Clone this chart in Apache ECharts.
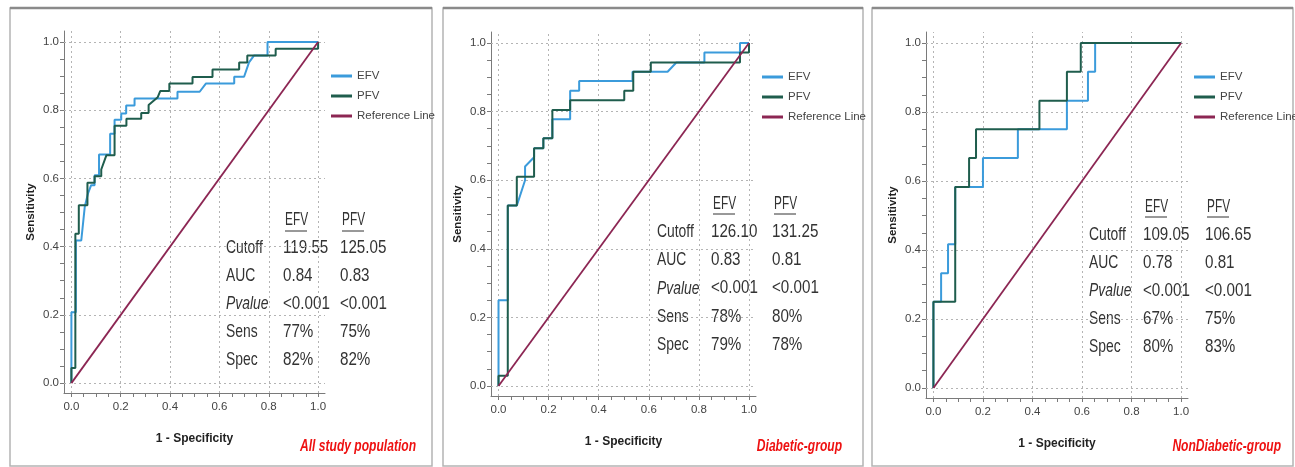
<!DOCTYPE html>
<html>
<head>
<meta charset="utf-8">
<script src="https://cdn.jsdelivr.net/npm/echarts@6/dist/echarts.min.js"></script>
<style>
html, body { margin: 0; padding: 0; background: #fff; }
#main { width: 1295px; height: 467px; }
</style>
</head>
<body>
<div id="main"></div>
<script>
// ROC curves: [1 - specificity, sensitivity]
var efvAll = [[0,0],[0,0.208],[0.018,0.208],[0.018,0.418],[0.04,0.418],[0.054,0.516],[0.067,0.555],[0.08,0.58],[0.094,0.58],[0.094,0.609],[0.112,0.609],[0.112,0.67],[0.157,0.67],[0.157,0.731],[0.175,0.731],[0.175,0.772],[0.202,0.772],[0.202,0.79],[0.222,0.79],[0.222,0.814],[0.256,0.814],[0.256,0.834],[0.43,0.834],[0.43,0.854],[0.52,0.854],[0.545,0.878],[0.66,0.878],[0.66,0.898],[0.70,0.898],[0.72,0.94],[0.74,0.96],[0.795,0.96],[0.795,1],[1,1]];
var pfvAll = [[0,0],[0,0.044],[0.016,0.044],[0.016,0.438],[0.03,0.438],[0.03,0.521],[0.065,0.521],[0.065,0.587],[0.094,0.587],[0.094,0.606],[0.121,0.606],[0.121,0.626],[0.142,0.668],[0.175,0.668],[0.175,0.754],[0.223,0.754],[0.223,0.775],[0.283,0.775],[0.283,0.792],[0.313,0.792],[0.313,0.815],[0.35,0.838],[0.36,0.856],[0.397,0.856],[0.397,0.878],[0.491,0.878],[0.491,0.897],[0.572,0.897],[0.572,0.919],[0.68,0.919],[0.68,0.94],[0.713,0.94],[0.713,0.96],[0.828,0.96],[0.828,0.98],[1,0.98],[1,1]];
var efvDiab = [[0,0],[0,0.25],[0.037,0.25],[0.037,0.526],[0.073,0.526],[0.106,0.60],[0.106,0.64],[0.142,0.667],[0.142,0.693],[0.179,0.693],[0.179,0.722],[0.215,0.722],[0.215,0.778],[0.286,0.778],[0.286,0.861],[0.322,0.861],[0.322,0.889],[0.535,0.889],[0.535,0.916],[0.675,0.916],[0.71,0.943],[0.822,0.943],[0.822,0.972],[0.964,0.972],[0.964,1],[1,1]];
var pfvDiab = [[0,0],[0,0.03],[0.037,0.03],[0.037,0.526],[0.073,0.526],[0.073,0.61],[0.142,0.61],[0.142,0.693],[0.179,0.693],[0.179,0.722],[0.215,0.722],[0.215,0.805],[0.286,0.805],[0.286,0.833],[0.502,0.833],[0.502,0.861],[0.538,0.861],[0.538,0.916],[0.608,0.916],[0.608,0.943],[0.964,0.943],[0.964,0.972],[1,0.972],[1,1]];
var efvNonDiab = [[0,0],[0,0.25],[0.031,0.25],[0.031,0.333],[0.059,0.333],[0.059,0.417],[0.088,0.417],[0.088,0.583],[0.2,0.583],[0.2,0.667],[0.341,0.667],[0.341,0.75],[0.539,0.75],[0.539,0.833],[0.624,0.833],[0.624,0.917],[0.653,0.917],[0.653,1],[1,1]];
var pfvNonDiab = [[0,0],[0,0.25],[0.088,0.25],[0.088,0.583],[0.144,0.583],[0.144,0.667],[0.172,0.667],[0.172,0.75],[0.428,0.75],[0.428,0.833],[0.539,0.833],[0.539,0.917],[0.595,0.917],[0.595,1],[1,1]];
var refLine = [[0,0],[1,1]];

var tickValues = [0,0.05,0.1,0.15,0.2,0.25,0.3,0.35,0.4,0.45,0.5,0.55,0.6,0.65,0.7,0.75,0.8,0.85,0.9,0.95,1];
var labelValues = [0,0.2,0.4,0.6,0.8,1];

var panelTitles = ['All study population', 'Diabetic-group', 'NonDiabetic-group'];
var statLabels = ['Cutoff', 'AUC', 'Pvalue', 'Sens', 'Spec'];
var statHeads = ['EFV', 'PFV'];
var efvStats = [
    ['119.55', '0.84', '<0.001', '77%', '82%'],
    ['126.10', '0.83', '<0.001', '78%', '79%'],
    ['109.05', '0.78', '<0.001', '67%', '80%']
];
var pfvStats = [
    ['125.05', '0.83', '<0.001', '75%', '82%'],
    ['131.25', '0.81', '<0.001', '80%', '78%'],
    ['106.65', '0.81', '<0.001', '75%', '83%']
];
var curves = [[efvAll, pfvAll], [efvDiab, pfvDiab], [efvNonDiab, pfvNonDiab]];

var FONT = "'Liberation Sans', Arial, sans-serif";
var C_EFV = '#3b9bdb', C_PFV = '#1f5d4d', C_REF = '#8c2653';

// layout of the three panels (pixels)
var grids = [
    {left: 64, top: 31, width: 261, height: 362},
    {left: 491, top: 32, width: 265, height: 364},
    {left: 926, top: 32, width: 262, height: 366}
];
var frames = [[10, 8, 422], [443, 8, 420], [872, 8, 421]];
var legendPos = [[331, 69], [762, 70], [1194, 70]];
// label x, col1 x, col2 x, header y, first row y, row step, underline y
var tablePos = [
    [226, 283, 340, 220, 248, 28, 231],
    [657, 711, 772, 204, 232, 28.2, 214],
    [1089, 1143, 1205, 207, 235, 28.1, 217]
];
var titleRight = [416, 842, 1281];

var myChart = echarts.init(document.getElementById('main'));

var xAxes = [], yAxes = [], series = [], legends = [], graphics = [];

var gridMarks = [];
labelValues.forEach(function (v) { gridMarks.push({xAxis: v}); });
labelValues.forEach(function (v) { gridMarks.push({yAxis: v}); });

// narrow-looking text: Liberation Sans squeezed horizontally
function txt(x, y, s, font, sx, extra) {
    var st = {text: s, font: font, fill: '#333', textVerticalAlign: 'middle'};
    if (extra) { for (var k in extra) st[k] = extra[k]; }
    return {type: 'text', x: x, y: y, scaleX: sx, silent: true, style: st};
}

for (var i = 0; i < 3; i++) {
    xAxes.push({
        gridIndex: i, type: 'value', min: -0.03, max: 1.028,
        axisLine: {show: true, onZero: false, lineStyle: {color: '#7a7a7a'}},
        axisTick: {show: true, customValues: tickValues, length: 4, lineStyle: {color: '#7a7a7a'}},
        axisLabel: {customValues: labelValues, formatter: function (v) { return v.toFixed(1); },
            margin: 8, fontFamily: FONT, fontSize: 11.5, color: '#444'},
        splitLine: {show: false},
        name: '1 - Specificity', nameLocation: 'middle', nameGap: 40,
        nameTextStyle: {fontWeight: 'bold', fontSize: 12, color: '#222', fontFamily: FONT}
    });
    yAxes.push({
        gridIndex: i, type: 'value', min: -0.029, max: 1.032,
        axisLine: {show: true, onZero: false, lineStyle: {color: '#7a7a7a'}},
        axisTick: {show: true, customValues: tickValues, length: 4, lineStyle: {color: '#7a7a7a'}},
        axisLabel: {customValues: labelValues, formatter: function (v) { return v.toFixed(1); },
            margin: 5, fontFamily: FONT, fontSize: 11.5, color: '#444'},
        splitLine: {show: false},
        name: 'Sensitivity', nameLocation: 'middle', nameGap: 27,
        nameTextStyle: {fontWeight: 'bold', fontSize: 11.5, color: '#222', fontFamily: FONT}
    });

    series.push({
        name: 'Reference Line', type: 'line', xAxisIndex: i, yAxisIndex: i,
        data: refLine, showSymbol: false, color: C_REF, z: 4,
        lineStyle: {width: 1.8, color: C_REF},
        markLine: {silent: true, symbol: 'none', z: 1, label: {show: false},
            lineStyle: {color: '#b4b4b4', type: [2, 3], width: 1}, data: gridMarks}
    });
    series.push({
        name: 'EFV', type: 'line', xAxisIndex: i, yAxisIndex: i,
        data: curves[i][0], showSymbol: false, color: C_EFV, z: 2,
        lineStyle: {width: 2, color: C_EFV}
    });
    series.push({
        name: 'PFV', type: 'line', xAxisIndex: i, yAxisIndex: i,
        data: curves[i][1], showSymbol: false, color: C_PFV, z: 3,
        lineStyle: {width: 2, color: C_PFV}
    });

    legends.push({
        data: ['EFV', 'PFV', 'Reference Line'], orient: 'vertical',
        left: legendPos[i][0], top: legendPos[i][1],
        icon: 'rect', itemWidth: 21, itemHeight: 3, itemGap: 6, padding: 0,
        textStyle: {fontFamily: FONT, fontSize: 11.5, color: '#444', lineHeight: 14}
    });

    // panel frame
    var f = frames[i];
    graphics.push({type: 'rect', silent: true, z: -1,
        shape: {x: f[0], y: f[1], width: f[2], height: 466 - f[1]},
        style: {fill: 'none', stroke: '#b4b4b4', lineWidth: 1.5}});
    graphics.push({type: 'line', silent: true,
        shape: {x1: f[0], y1: f[1], x2: f[0] + f[2], y2: f[1]},
        style: {stroke: '#8a8a8a', lineWidth: 2.5}});

    // stats table
    var t = tablePos[i];
    statHeads.forEach(function (h, k) {
        var x = k === 0 ? t[1] : t[2];
        graphics.push(txt(x + 2, t[3], h, '18.5px ' + FONT, 0.64));
        graphics.push({type: 'line', silent: true,
            shape: {x1: x + 2, y1: t[6], x2: x + 24, y2: t[6]},
            style: {stroke: '#333', lineWidth: 1}});
    });
    statLabels.forEach(function (lab, r) {
        var y = t[4] + r * t[5];
        graphics.push(txt(t[0], y, lab, (lab === 'Pvalue' ? 'italic ' : '') + '18.5px ' + FONT, 0.75));
        graphics.push(txt(t[1], y, efvStats[i][r], '18.5px ' + FONT, 0.82));
        graphics.push(txt(t[2], y, pfvStats[i][r], '18.5px ' + FONT, 0.82));
    });

    // red group caption
    graphics.push(txt(titleRight[i], 446, panelTitles[i], 'italic bold 17px ' + FONT, 0.71,
        {fill: '#ee1111', textAlign: 'right'}));
}

var option = {
    animation: false,
    backgroundColor: '#fff',
    grid: grids,
    xAxis: xAxes,
    yAxis: yAxes,
    legend: legends,
    series: series,
    graphic: graphics
};

myChart.setOption(option);
</script>
</body>
</html>
